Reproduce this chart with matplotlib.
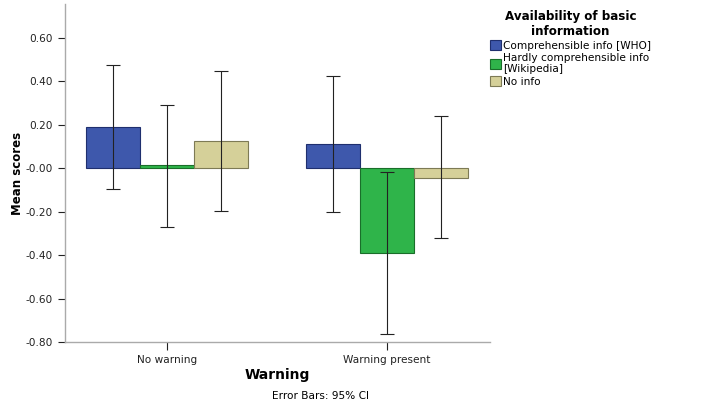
import numpy as np
import matplotlib.pyplot as plt
from matplotlib.patches import Patch

# data
groups = ["No warning", "Warning present"]
series = ["Comprehensible info [WHO]", "Hardly comprehensible info\n[Wikipedia]", "No info"]
means = [[0.190, 0.110], [0.015, -0.389], [0.126, -0.043]]
ci_low = [[-0.095, -0.202], [-0.270, -0.765], [-0.196, -0.323]]
ci_high = [[0.477, 0.426], [0.293, -0.017], [0.447, 0.238]]
colors = ["#3e58ac", "#2fb44a", "#d5d099"]
edges = ["#1f2f6e", "#1a6e2a", "#7d7a55"]

fig = plt.figure(figsize=(7.2, 4.09), dpi=100)
ax = fig.add_axes([0.0903, 0.1638, 0.5903, 0.826])

x = np.arange(len(groups))
w = 0.246
for i in range(len(series)):
    xs = x + (i - 1) * w
    m = np.array(means[i])
    ax.bar(xs, m, width=w, color=colors[i], edgecolor=edges[i], linewidth=0.8, zorder=2)
    err = [m - np.array(ci_low[i]), np.array(ci_high[i]) - m]
    ax.errorbar(xs, m, yerr=err, fmt="none", ecolor="#222222", elinewidth=0.8,
                capsize=4.7, capthick=0.8, zorder=3)

ax.set_xlim(-0.464, 1.468)
ax.set_ylim(-0.8, 0.755)
ax.set_yticks(np.arange(-0.8, 0.61, 0.2))
ax.set_yticklabels([f"{v:.2f}" for v in np.arange(-0.8, 0.61, 0.2)])
ax.set_xticks(x)
ax.set_xticklabels(groups)
ax.tick_params(labelsize=7.6, colors="#222222", length=5, width=0.8)
ax.tick_params(axis="x", length=6, pad=3)
for s in ["top", "right"]:
    ax.spines[s].set_visible(False)
for s in ["left", "bottom"]:
    ax.spines[s].set_color("#aaaaaa")
    ax.spines[s].set_linewidth(1.0)

ax.set_ylabel("Mean scores", fontsize=8.5, fontweight="bold", labelpad=1)
fig.text(277 / 720, 1 - 375 / 409, "Warning", fontsize=10, fontweight="bold",
         ha="center", va="center")
fig.text(320 / 720, 1 - 396 / 409, "Error Bars: 95% CI", fontsize=7.6,
         ha="center", va="center")

handles = [Patch(facecolor=c, edgecolor=e, linewidth=0.8) for c, e in zip(colors, edges)]
leg = fig.legend(handles, series, loc="upper left", bbox_to_anchor=(486 / 720, 1 - 6 / 409),
                 frameon=False, fontsize=7.6, title="Availability of basic\ninformation",
                 title_fontproperties={"weight": "bold", "size": 8.6},
                 handlelength=1.0, handleheight=1.0, handletextpad=0.2,
                 labelspacing=0.2, borderaxespad=0)
leg.get_title().set_multialignment("center")
leg._legend_box.align = "center"

fig.savefig("out.png", dpi=100)
